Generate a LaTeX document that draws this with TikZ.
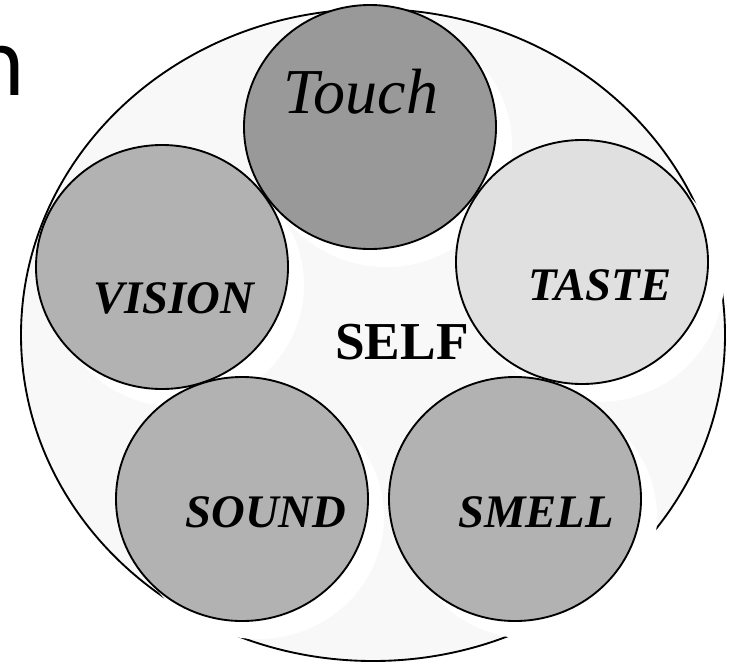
\documentclass[tikz,border=0pt]{standalone}
\usepackage{fontspec}
\setmainfont{Liberation Serif}
\newfontfamily\titlefont{DejaVu Sans}
\usepackage{xcolor}
\definecolor{selfgray}{RGB}{248, 248, 248}
\definecolor{touchgray}{RGB}{153, 153, 153}
\definecolor{sensegray}{RGB}{178, 178, 178}
\definecolor{tastegray}{RGB}{224, 224, 224}

\begin{document}
\begin{tikzpicture}[x=0.75pt, y=-0.75pt, line width=1.4pt,
    senselabel/.style={font=\fontsize{35}{40}\selectfont\bfseries\itshape, anchor=base, inner sep=0pt}]
    \useasboundingbox (0, 0) rectangle (730, 664);
    \clip (0, 0) rectangle (730, 664);
    \node[font=\titlefont\fontsize{66}{70}\selectfont, anchor=base west, inner sep=0pt] (title) at (-30, 95) {n};
    % self
    \filldraw[fill=selfgray] (373, 335) ellipse [x radius=352, y radius=326];
    % shadows behind the senses
    \foreach \cx/\cy in {370/127, 162/267, 582/262, 242/499, 515/499}
      \fill[white] (\cx+16, \cy+18) ellipse [x radius=126, y radius=122];
    % senses
    \foreach \cx/\cy/\tone in {370/127/touchgray, 162/267/sensegray, 582/262/tastegray, 242/499/sensegray, 515/499/sensegray}
      \filldraw[fill=\tone] (\cx, \cy) ellipse [x radius=126, y radius=122];
    \node[font=\fontsize{48}{52}\selectfont\itshape, anchor=base, inner sep=0pt] (touch) at (361, 113) {Touch};
    \node[senselabel] (vision) at (174, 313) {VISION};
    \node[senselabel] (taste) at (600, 300) {TASTE};
    \node[senselabel] (sound) at (266, 527) {SOUND};
    \node[senselabel] (smell) at (536, 527) {SMELL};
    \node[font=\fontsize{40}{46}\selectfont\bfseries, anchor=base, inner sep=0pt] (self) at (402, 359) {SELF};
  \end{tikzpicture}
\end{document}
